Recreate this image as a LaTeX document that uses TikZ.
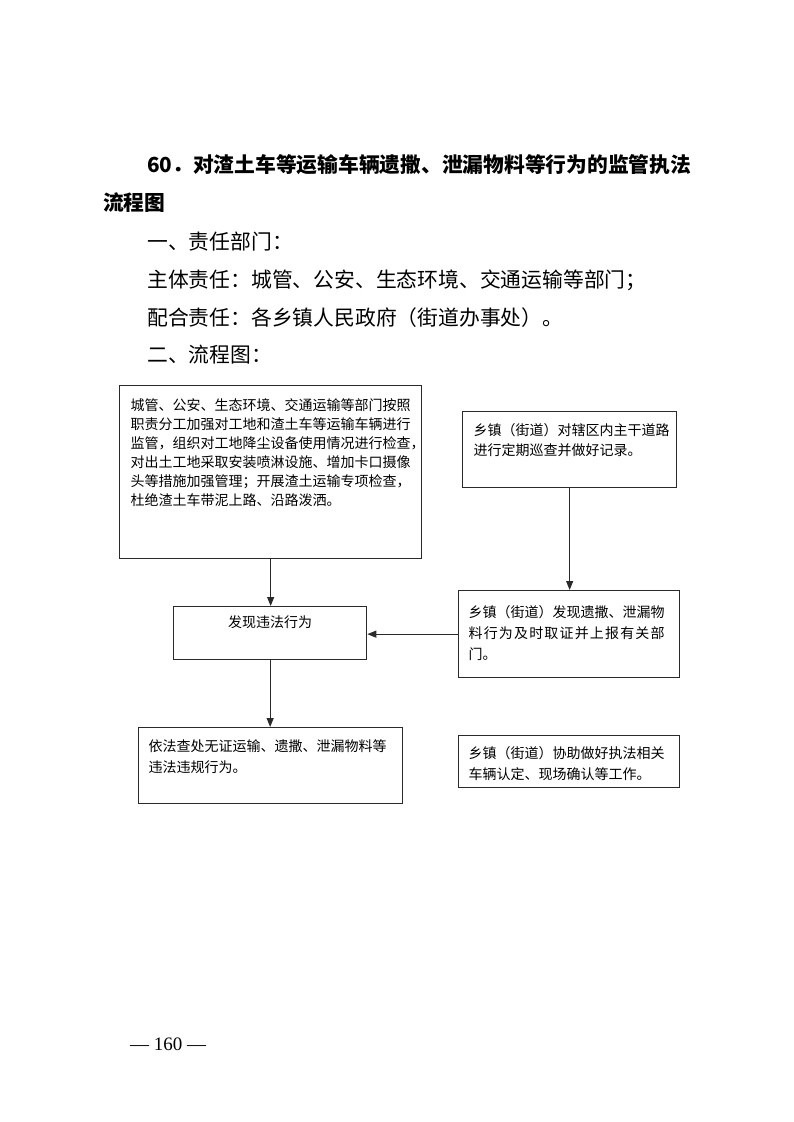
\documentclass[tikz,border=0pt]{standalone}
\usepackage{fontspec}
\newfontfamily\cjk{Noto Sans CJK SC}
\newfontfamily\pnum{Liberation Serif}
\usetikzlibrary{arrows.meta}
\definecolor{linec}{HTML}{2A2A2A}
\newcommand\boxtxt[6]{\parbox[c][#2][t]{#1}{\fontsize{14pt}{#5}\selectfont\cjk\vspace*{#4}\leftskip=#3\relax\noindent #6\par}}
\newcommand\ctrtxt[4]{\parbox[c][#2][t]{#1}{\fontsize{14pt}{17pt}\selectfont\cjk\vspace*{#3}\centering #4\par}}
\begin{document}
\begin{tikzpicture}[x=1pt,y=-1pt,
  fbox/.style={draw=linec, line width=1.3pt, inner sep=0pt, anchor=north west},
  arr/.style={draw=linec, line width=1.1pt, -{Triangle[length=9pt,width=7pt]}},
  headline/.style={anchor=base west, inner sep=0pt, font=\cjk\bfseries\fontsize{20.75pt}{24pt}\selectfont},
  bodyline/.style={anchor=base west, inner sep=0pt, font=\cjk\fontsize{20.8pt}{24pt}\selectfont}]
\fill[white] (0,0) rectangle (793,1122);
\useasboundingbox (0,0) rectangle (793,1122);

\node[headline] (t1) at (147,172.8) {60．对渣土车等运输车辆遗撒、泄漏物料等行为的监管执法};
\node[headline] (t2) at (103,210.8) {流程图};
\node[bodyline] (l1) at (147,249.9) {一、责任部门：};
\node[bodyline] (l2) at (147,287.9) {主体责任：城管、公安、生态环境、交通运输等部门；};
\node[bodyline] (l3) at (147,325.9) {配合责任：各乡镇人民政府（街道办事处）。};
\node[bodyline] (l4) at (147,362.9) {二、流程图：};

\node[fbox] (A) at (119,385) {\boxtxt{302pt}{173pt}{11pt}{12.5pt}{19pt}{城管、公安、生态环境、交通运输等部门按照\\职责分工加强对工地和渣土车等运输车辆进行\\监管，组织对工地降尘设备使用情况进行检查，\\对出土工地采取安装喷淋设施、增加卡口摄像\\头等措施加强管理；开展渣土运输专项检查，\\杜绝渣土车带泥上路、沿路泼洒。}};

\node[fbox] (B) at (462,411) {\boxtxt{214pt}{76pt}{11pt}{11.5pt}{20pt}{乡镇（街道）对辖区内主干道路\\进行定期巡查并做好记录。}};

\node[fbox] (C) at (458,590) {\boxtxt{221pt}{87pt}{10pt}{14.5pt}{21pt}{乡镇（街道）发现遗撒、泄漏物\\\makebox[196pt][s]{料\hfill 行\hfill 为\hfill 及\hfill 时\hfill 取\hfill 证\hfill 并\hfill 上\hfill 报\hfill 有\hfill 关\hfill 部}\\门。}};

\node[fbox] (D) at (173,606) {\ctrtxt{193pt}{53pt}{9.5pt}{发现违法行为}};

\node[fbox] (E) at (138,727) {\boxtxt{264pt}{76pt}{10pt}{12.5pt}{21pt}{依法查处无证运输、遗撒、泄漏物料等\\违法违规行为。}};

\node[fbox] (F) at (458,735) {\boxtxt{221pt}{52pt}{10pt}{10.5pt}{21pt}{乡镇（街道）协助做好执法相关\\车辆认定、现场确认等工作。}};

\draw[arr] (A.south) -- (A.south |- D.north);
\draw[arr] (B.south) -- (B.south |- C.north);
\draw[arr] (C.west) -- (C.west -| D.east);
\draw[arr] (D.south) -- (D.south |- E.north);

\node[anchor=base west, inner sep=0pt, font=\pnum\fontsize{19pt}{22pt}\selectfont] (pg) at (130,1050) {— 160 —};
\end{tikzpicture}
\end{document}
